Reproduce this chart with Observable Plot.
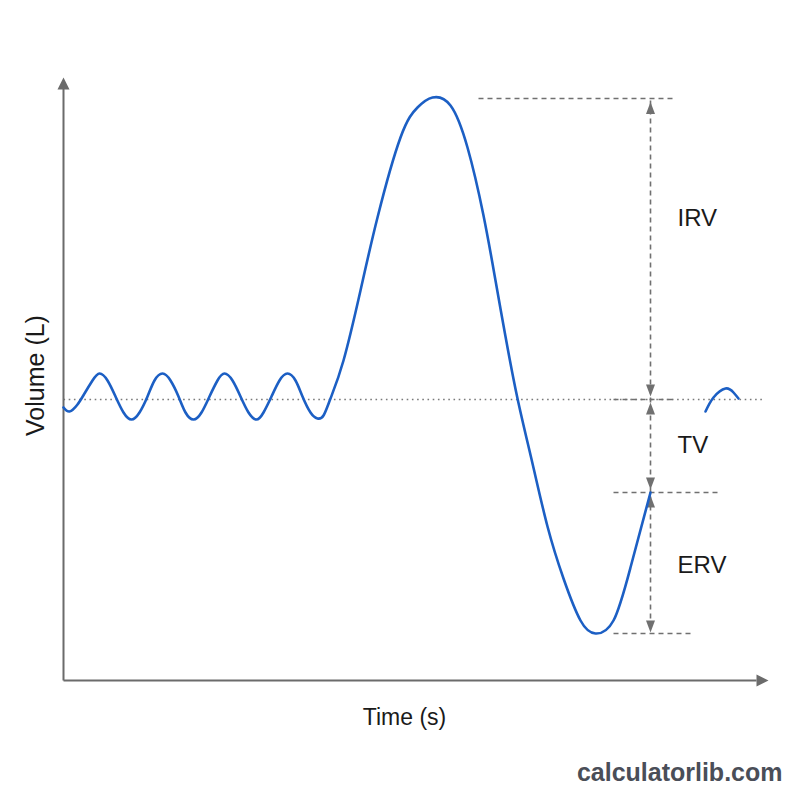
<!DOCTYPE html>
<html>
<head>
<meta charset="utf-8">
<script src="https://cdn.jsdelivr.net/npm/d3@7"></script>
<script src="https://cdn.jsdelivr.net/npm/@observablehq/plot@0.6"></script>
<style>
  html, body { margin: 0; padding: 0; background: #ffffff; }
</style>
</head>
<body>
<div id="chart"></div>
<script>
// Main breathing trace (time in s, volume in L)
const traceTime = [
  0.00, 0.12, 0.28, 0.42, 0.58, 0.72, 0.88, 1.04, 1.20, 1.36, 1.52, 1.68, 1.82, 1.98, 2.14, 2.30, 2.44, 2.60,
  2.76, 2.92, 3.08, 3.22, 3.38, 3.54, 3.70, 3.86, 4.00, 4.16, 4.32, 4.48, 4.64, 4.78, 4.94, 5.08, 5.20,
  5.34, 5.60, 5.94, 6.28, 6.74, 7.08, 7.38, 7.74, 8.08, 8.40, 8.64, 8.84, 9.08, 9.38, 9.68, 10.00,
  10.34, 10.64, 11.00, 11.34, 11.74];
const traceVolume = [
  2.73, 2.69, 2.76, 2.87, 3.00, 3.07, 3.00, 2.84, 2.68, 2.61, 2.68, 2.84, 3.00, 3.07, 3.00, 2.84, 2.68, 2.61,
  2.68, 2.84, 3.00, 3.07, 3.00, 2.84, 2.68, 2.61, 2.68, 2.84, 3.00, 3.07, 3.00, 2.84, 2.68, 2.62, 2.65,
  2.82, 3.20, 3.90, 4.63, 5.43, 5.73, 5.83, 5.75, 5.33, 4.65, 4.00, 3.44, 2.82, 2.17, 1.54, 1.02,
  0.60, 0.47, 0.60, 1.13, 1.88];
// Resumed tidal breath after the manoeuvre
const tailTime = [12.84, 13.00, 13.24, 13.40, 13.50];
const tailVolume = [2.69, 2.83, 2.92, 2.88, 2.82];

// Resting level (dotted line)
const restVolume = 2.81;
const restFrom = 0, restTo = 13.98;

// Dashed reference levels
const levelFrom = [8.30, 11.00, 11.00, 11.00];
const levelTo = [12.18, 12.18, 13.10, 12.54];
const levelVolume = [5.82, 2.81, 1.88, 0.47];

// Measurement arrow
const arrowTime = 11.74;
const arrowTop = 5.80, arrowBottom = 0.49;
const headVolume = [5.785, 2.84, 2.78, 1.91, 1.85, 0.48];
const headRotate = [0, 180, 0, 180, 0, 180];

// Volume labels
const labelText = ["IRV", "TV", "ERV"];
const labelTime = [12.28, 12.28, 12.28];
const labelVolume = [4.62, 2.35, 1.15];

// Axes
const xAxisEnd = 13.86, yAxisEnd = 5.92;
const xAxisTip = 14.1, yAxisTip = 6.03;

const trace = traceTime.map((t, i) => ({t, v: traceVolume[i]}));
const tail = tailTime.map((t, i) => ({t, v: tailVolume[i]}));
const levels = levelVolume.map((v, i) => ({x1: levelFrom[i], x2: levelTo[i], v}));
const heads = headVolume.map((v, i) => ({t: arrowTime, v, r: headRotate[i]}));
const labels = labelText.map((s, i) => ({s, t: labelTime[i], v: labelVolume[i]}));
const axisHeads = [{t: 0, v: yAxisTip, r: 0}, {t: xAxisTip, v: 0, r: 90}];

function headSymbol(w, h) {
  return {
    draw(ctx) {
      ctx.moveTo(0, 0);
      ctx.lineTo(w / 2, h);
      ctx.lineTo(-w / 2, h);
      ctx.closePath();
    }
  };
}

const gray = "#6b6b6b";
const dashGray = "#707070";
const blue = "#1c5fc4";
const font = "'Liberation Sans', Arial, Helvetica, sans-serif";

const chart = Plot.plot({
  width: 800,
  height: 800,
  marginLeft: 63,
  marginRight: 32,
  marginTop: 75,
  marginBottom: 120,
  style: {fontFamily: font, background: "#ffffff"},
  x: {domain: [0, 14.1], axis: null},
  y: {domain: [0, 6.05], axis: null},
  marks: [
    Plot.link([{x1: restFrom, x2: restTo, v: restVolume}], {x1: "x1", x2: "x2", y1: "v", y2: "v", stroke: "#7a7a7a", strokeWidth: 1.6, strokeDasharray: "1.6,3.6"}),
    Plot.link(levels, {x1: "x1", x2: "x2", y1: "v", y2: "v", stroke: dashGray, strokeWidth: 1.6, strokeDasharray: "5,4"}),
    Plot.link([{t: arrowTime, a: arrowTop, b: arrowBottom}], {x1: "t", x2: "t", y1: "a", y2: "b", stroke: dashGray, strokeWidth: 1.6, strokeDasharray: "5,4"}),
    Plot.dot(heads, {x: "t", y: "v", rotate: "r", symbol: headSymbol(9, 12), fill: dashGray, stroke: "none"}),
    Plot.link([{a: 0, b: xAxisEnd}], {x1: "a", x2: "b", y1: 0, y2: 0, stroke: gray, strokeWidth: 2}),
    Plot.link([{a: 0, b: yAxisEnd}], {x1: 0, x2: 0, y1: "a", y2: "b", stroke: gray, strokeWidth: 2}),
    Plot.dot(axisHeads, {x: "t", y: "v", rotate: "r", symbol: headSymbol(12, 12), fill: gray, stroke: "none"}),
    Plot.line(trace, {x: "t", y: "v", curve: "natural", stroke: blue, strokeWidth: 2.6}),
    Plot.line(tail, {x: "t", y: "v", curve: "natural", stroke: blue, strokeWidth: 2.6}),
    Plot.text(labels, {x: "t", y: "v", text: "s", textAnchor: "start", fontSize: 24, fill: "#1a1a1a"}),
    Plot.text(["Time (s)"], {x: 6.82, y: -0.37, text: d => d, fontSize: 23, fill: "#1a1a1a"}),
    Plot.text(["Volume (L)"], {x: -0.56, y: 3.05, text: d => d, fontSize: 25, rotate: -90, fill: "#1a1a1a"}),
    Plot.text(["calculatorlib.com"], {x: 14.38, y: -0.92, text: d => d, fontSize: 25, fontWeight: "bold", textAnchor: "end", fill: "#4a4e58"})
  ]
});

document.getElementById("chart").appendChild(chart);
</script>
</body>
</html>
